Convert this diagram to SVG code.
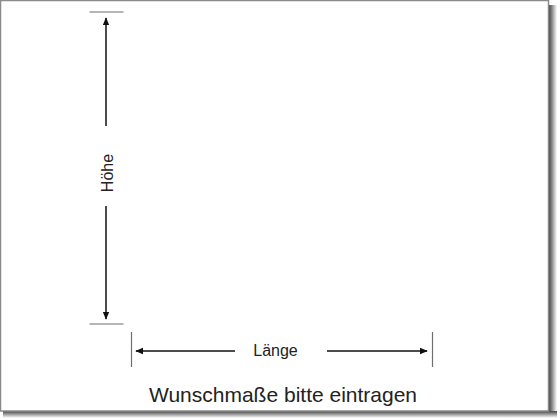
<svg xmlns="http://www.w3.org/2000/svg" width="560" height="420" viewBox="0 0 560 420">
  <defs>
    <style>
      .tick { stroke: #6e6e6e; stroke-width: 1.2; fill: none; }
      .dim { stroke: #111; stroke-width: 1.5; fill: none; }
      .lbl { font-family: "Liberation Sans", Arial, sans-serif; fill: #222; }
    </style>
    <marker id="ah" viewBox="0 0 10 10" refX="9" refY="5" markerWidth="5.5" markerHeight="5.5" markerUnits="strokeWidth" orient="auto">
      <path d="M0,1 L10,5 L0,9 Z" fill="#111"/>
    </marker>
    <linearGradient id="shR" x1="0" y1="0" x2="1" y2="0">
      <stop offset="0" stop-color="#444"/>
      <stop offset="1" stop-color="#fff"/>
    </linearGradient>
    <linearGradient id="shB" x1="0" y1="0" x2="0" y2="1">
      <stop offset="0" stop-color="#444"/>
      <stop offset="1" stop-color="#fff"/>
    </linearGradient>
  </defs>
  <rect width="560" height="420" fill="#fff"/>
  <g id="frame">
    <rect x="549" y="5" width="8" height="413" fill="url(#shR)"/>
    <rect x="3" y="411" width="554" height="7" fill="url(#shB)"/>
    <rect x="0.5" y="0.5" width="548" height="410.5" fill="#fff" stroke="#8a8a8a" stroke-width="1.5"/>
  </g>
  <g id="connectors">
    <line class="tick" x1="89.5" y1="12" x2="123.5" y2="12"/>
    <line class="tick" x1="89.5" y1="324" x2="123.5" y2="324"/>
    <line class="tick" x1="131.5" y1="332" x2="131.5" y2="367"/>
    <line class="tick" x1="432.5" y1="332" x2="432.5" y2="367"/>
    <line class="dim" x1="106" y1="126" x2="106" y2="18" marker-end="url(#ah)"/>
    <line class="dim" x1="106" y1="206" x2="106" y2="319" marker-end="url(#ah)"/>
    <line class="dim" x1="235" y1="351" x2="136" y2="351" marker-end="url(#ah)"/>
    <line class="dim" x1="327" y1="351" x2="427" y2="351" marker-end="url(#ah)"/>
  </g>
  <g id="label-hoehe">
    <text class="lbl" x="0" y="0" font-size="16" text-anchor="middle" transform="translate(112.5,173) rotate(-90)">Höhe</text>
  </g>
  <g id="label-laenge">
    <text class="lbl" x="275.5" y="356" font-size="16" text-anchor="middle">Länge</text>
  </g>
  <g id="label-caption">
    <text class="lbl" x="283" y="401.5" font-size="21" text-anchor="middle">Wunschmaße bitte eintragen</text>
  </g>
</svg>
